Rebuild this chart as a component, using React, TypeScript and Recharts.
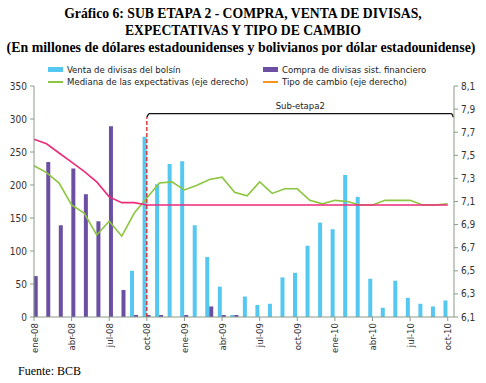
import { ComposedChart, Bar, Line, XAxis, YAxis, ReferenceLine } from "recharts";

const MONTHS = [
  "ene-08", "feb-08", "mar-08", "abr-08", "may-08", "jun-08", "jul-08", "ago-08", "sep-08", "oct-08", "nov-08", "dic-08",
  "ene-09", "feb-09", "mar-09", "abr-09", "may-09", "jun-09", "jul-09", "ago-09", "sep-09", "oct-09", "nov-09", "dic-09",
  "ene-10", "feb-10", "mar-10", "abr-10", "may-10", "jun-10", "jul-10", "ago-10", "sep-10", "oct-10",
];

// millones de USD
const VENTA_BOLSIN = [
  0, 0, 0, 0, 0, 0, 0, 0, 70, 273, 201, 232,
  236, 139, 91, 46, 3, 31, 18, 20, 60, 67, 108, 143,
  133, 215, 182, 58, 14, 55, 29, 20, 16, 25,
];
const COMPRA_SIST_FIN = [
  62, 235, 139, 225, 186, 145, 289, 41, 3, 3, 3, 0,
  3, 0, 16, 3, 3, 0, 0, 0, 0, 0, 0, 0,
  0, 0, 0, 0, 0, 0, 0, 0, 0, 0,
];

// Bs por USD (eje derecho)
const MEDIANA_EXPECT = [
  7.41, 7.35, 7.26, 7.07, 7.0, 6.81, 6.93, 6.8, 7.0, 7.13, 7.26, 7.27,
  7.2, 7.24, 7.29, 7.31, 7.18, 7.15, 7.27, 7.17, 7.21, 7.21, 7.11, 7.08,
  7.11, 7.1, 7.07, 7.07, 7.11, 7.11, 7.11, 7.07, 7.07, 7.08,
];
const TIPO_CAMBIO = [
  7.64, 7.6, 7.52, 7.44, 7.36, 7.27, 7.14, 7.09, 7.09, 7.07, 7.07, 7.07,
  7.07, 7.07, 7.07, 7.07, 7.07, 7.07, 7.07, 7.07, 7.07, 7.07, 7.07, 7.07,
  7.07, 7.07, 7.07, 7.07, 7.07, 7.07, 7.07, 7.07, 7.07, 7.07,
];

const LEFT_TICKS = [0, 50, 100, 150, 200, 250, 300, 350];
const RIGHT_TICKS = [6.1, 6.3, 6.5, 6.7, 6.9, 7.1, 7.3, 7.5, 7.7, 7.9, 8.1];
const X_TICKS = [0, 3, 6, 9, 12, 15, 18, 21, 24, 27, 30, 33];

const SUB_ETAPA_START = 9; // oct-08
const SUB_ETAPA_END = 33.33;
const SUB_ETAPA_LEVEL = 7.86;

const FONT = "'DejaVu Sans Condensed', 'DejaVu Sans', sans-serif";
const AXIS = "#8a9a8a";
const CYAN = "#55c8f2";
const PURPLE = "#6a4fa3";
const GREEN = "#8cc63e";
const PINK = "#ee2a7b";

const data = MONTHS.map((mes, i) => ({
  i,
  mes,
  venta: VENTA_BOLSIN[i],
  compra: COMPRA_SIST_FIN[i],
  mediana: MEDIANA_EXPECT[i],
  tc: TIPO_CAMBIO[i],
}));

function MonthTick({ x, y, payload }: any) {
  return (
    <text
      x={x}
      y={y}
      transform={`rotate(-90 ${x} ${y})`}
      textAnchor="end"
      dy={3.5}
      fontSize={9.5}
      fontFamily={FONT}
      fill="#333"
    >
      {MONTHS[payload.value]}
    </text>
  );
}

const LEGEND = [
  { label: "Venta de divisas del bolsín", color: CYAN, kind: "bar", left: 48, top: 64 },
  { label: "Compra de divisas sist. financiero", color: PURPLE, kind: "bar", left: 263, top: 64 },
  { label: "Mediana de las expectativas (eje derecho)", color: GREEN, kind: "line", left: 48, top: 76 },
  { label: "Tipo de cambio (eje derecho)", color: "#f7941d", kind: "line", left: 263, top: 76 },
];

export default function App() {
  return (
    <div style={{ position: "absolute", left: 0, top: 0, width: 486, height: 383, background: "#fff" }}>
      <div
        style={{
          position: "absolute",
          top: 5,
          left: 0,
          width: 486,
          textAlign: "center",
          fontFamily: "'Liberation Serif', serif",
          fontWeight: "bold",
          fontSize: 13.7,
          lineHeight: "17px",
          color: "#000",
        }}
      >
        <div>Gráfico 6: SUB ETAPA 2 - COMPRA, VENTA DE DIVISAS,</div>
        <div>EXPECTATIVAS Y TIPO DE CAMBIO</div>
        <div style={{ fontSize: 13.9, marginLeft: -4 }}>
          (En millones de dólares estadounidenses y bolivianos por dólar estadounidense)
        </div>
      </div>

      {LEGEND.map((l) => (
        <div
          key={l.label}
          style={{
            position: "absolute",
            left: l.left,
            top: l.top,
            height: 11,
            display: "flex",
            alignItems: "center",
            fontFamily: FONT,
            fontSize: 9.5,
            color: "#222",
            whiteSpace: "nowrap",
          }}
        >
          <span
            style={{
              display: "inline-block",
              width: 15,
              height: l.kind === "bar" ? 5 : 2,
              background: l.color,
              marginRight: 4,
            }}
          />
          {l.label}
        </div>
      ))}

      <div style={{ position: "absolute", left: 0, top: 0 }}>
        <ComposedChart
          width={486}
          height={383}
          data={data}
          margin={{ top: 86, right: 0, bottom: 26, left: 0 }}
          barGap={0}
        >
          <XAxis
            dataKey="i"
            type="number"
            domain={[0, 33.5]}
            ticks={X_TICKS}
            interval={0}
            height={40}
            stroke={AXIS}
            tickSize={4}
            tickMargin={2}
            tick={<MonthTick />}
          />
          <YAxis
            yAxisId="left"
            domain={[0, 350]}
            ticks={LEFT_TICKS}
            width={34}
            stroke={AXIS}
            tickSize={4}
            tickMargin={3}
            tick={{ fontSize: 10, fontFamily: FONT, fill: "#333" }}
          />
          <YAxis
            yAxisId="right"
            orientation="right"
            domain={[6.1, 8.1]}
            ticks={RIGHT_TICKS}
            width={32}
            stroke={AXIS}
            tickSize={4}
            tickMargin={3}
            tickFormatter={(v: number) => v.toFixed(1).replace(".", ",")}
            tick={{ fontSize: 10, fontFamily: FONT, fill: "#333" }}
          />
          <Bar yAxisId="left" dataKey="venta" fill={CYAN} barSize={4} isAnimationActive={false} />
          <Bar yAxisId="left" dataKey="compra" fill={PURPLE} barSize={4} isAnimationActive={false} />
          <Line
            yAxisId="right"
            dataKey="mediana"
            stroke={GREEN}
            strokeWidth={1.6}
            dot={false}
            isAnimationActive={false}
          />
          <Line
            yAxisId="right"
            dataKey="tc"
            stroke={PINK}
            strokeWidth={1.6}
            dot={false}
            isAnimationActive={false}
          />
          <ReferenceLine
            yAxisId="right"
            segment={[
              { x: SUB_ETAPA_START, y: 6.1 },
              { x: SUB_ETAPA_START, y: SUB_ETAPA_LEVEL - 0.03 },
            ]}
            stroke="#d42020"
            strokeWidth={1.3}
            strokeDasharray="4 2"
          />
          <ReferenceLine
            yAxisId="right"
            segment={[
              { x: SUB_ETAPA_START, y: SUB_ETAPA_LEVEL - 0.03 },
              { x: SUB_ETAPA_START + 0.15, y: SUB_ETAPA_LEVEL },
            ]}
            stroke="#111"
            strokeWidth={1.3}
          />
          <ReferenceLine
            yAxisId="right"
            segment={[
              { x: SUB_ETAPA_START + 0.15, y: SUB_ETAPA_LEVEL },
              { x: SUB_ETAPA_END, y: SUB_ETAPA_LEVEL },
            ]}
            stroke="#111"
            strokeWidth={1.3}
            label={{ value: "Sub-etapa2", position: "top", offset: 5, fontSize: 9.5, fontFamily: FONT, fill: "#222" }}
          />
          <ReferenceLine
            yAxisId="right"
            segment={[
              { x: SUB_ETAPA_END, y: SUB_ETAPA_LEVEL },
              { x: SUB_ETAPA_END + 0.12, y: SUB_ETAPA_LEVEL - 0.03 },
            ]}
            stroke="#111"
            strokeWidth={1.3}
          />
        </ComposedChart>
      </div>

      <div
        style={{
          position: "absolute",
          left: 18,
          top: 364,
          fontFamily: "'Liberation Serif', serif",
          fontSize: 12,
          color: "#000",
        }}
      >
        Fuente: BCB
      </div>
    </div>
  );
}
